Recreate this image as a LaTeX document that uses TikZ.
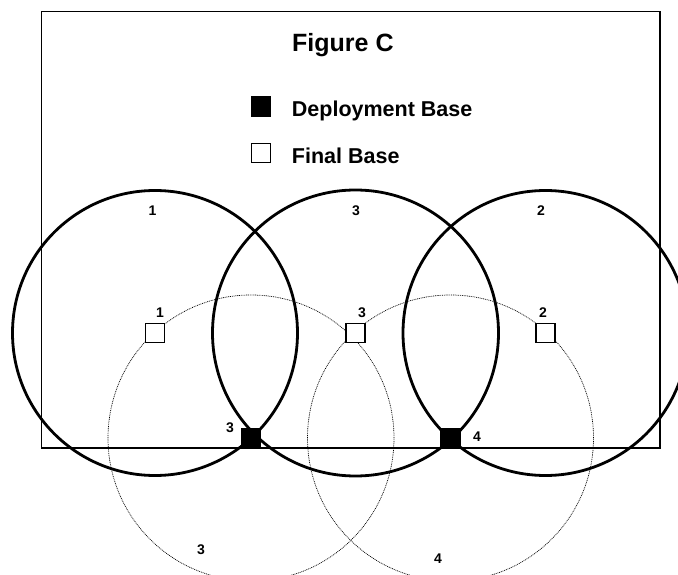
\documentclass[tikz,border=0pt]{standalone}
\usepackage{fontspec}
\setmainfont{Liberation Sans}
\usetikzlibrary{positioning}

\begin{document}
\begin{tikzpicture}[x=1pt,y=-1pt,
    base/.style={rectangle, draw=black, line width=1.1pt, minimum size=19pt, inner sep=0pt},
    deploy/.style={base, fill=black},
    final/.style={base, fill=white},
    reach/.style={line width=2.8pt},
    drift/.style={line width=0.7pt, dash pattern=on 0.9pt off 0.9pt},
    num/.style={font=\fontsize{14}{16}\selectfont\bfseries, inner sep=0pt},
    legtext/.style={font=\fontsize{21.5}{24}\selectfont\bfseries, inner sep=0pt, anchor=base west}
  ]
    \useasboundingbox (0,0) rectangle (678,575);

    % Bases
    \coordinate (c1) at (155,333);
    \coordinate (c3) at (355.5,333);
    \coordinate (c2) at (545.5,333);
    \coordinate (d3) at (251,438);
    \coordinate (d4) at (450.5,438);

    % Dotted rings round the deployment bases
    \draw[drift] (d3) circle[radius=143pt];
    \draw[drift] (d4) circle[radius=143pt];

    % Solid rings round the final bases
    \draw[reach] (c1) circle[radius=142.5pt];
    \draw[reach] (c3) circle[radius=143pt];
    \draw[reach] (c2) circle[radius=142.5pt];

    % Frame
    \draw[line width=1.5pt] (41.7,11.7) rectangle (660,448);

    % Legend
    \node[font=\fontsize{25}{30}\selectfont\bfseries, inner sep=0pt, anchor=base west] (title) at (292,52) {Figure C};
    \node[deploy] (legdep) at (260.7,106.5) {};
    \node[final] (legfin) at (260.7,153) {};
    \node[legtext, right=21pt of legdep.south east, anchor=base west] (legdeptext) {Deployment Base};
    \node[legtext, right=21pt of legfin.south east, anchor=base west] (legfintext) {Final Base};

    % Base markers
    \node[final] (fb1) at (c1) {};
    \node[final] (fb3) at (c3) {};
    \node[final] (fb2) at (c2) {};
    \node[deploy] (db3) at (d3) {};
    \node[deploy] (db4) at (d4) {};

    % Numbers
    \node[num] (n1) at (160,313) {1};
    \node[num] (n3) at (362,313) {3};
    \node[num] (n2) at (543,313) {2};
    \node[num] (nd3) at (230,428) {3};
    \node[num] (nd4) at (477,437) {4};
    \node[num] (r1) at (152.5,211) {1};
    \node[num] (r3) at (356,211) {3};
    \node[num] (r2) at (541,211) {2};
    \node[num] (s3) at (201,550) {3};
    \node[num] (s4) at (438,559) {4};

\end{tikzpicture}
\end{document}
